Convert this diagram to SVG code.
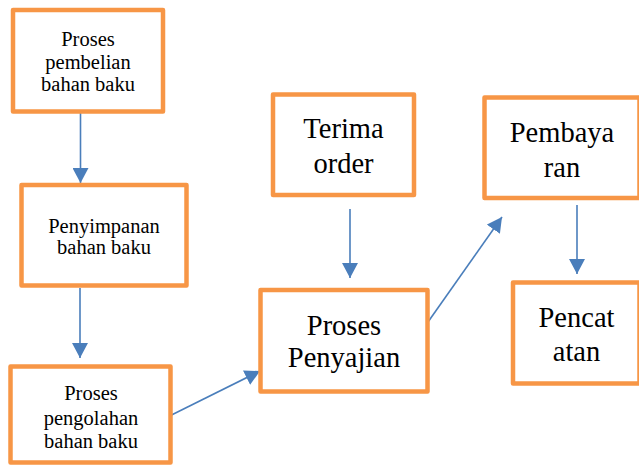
<svg xmlns="http://www.w3.org/2000/svg" width="639" height="466" viewBox="0 0 639 466">
<style>
.box{fill:#fff;stroke:#F79646;stroke-width:4.5;stroke-linejoin:round}
.c{fill:none;stroke:#4A7EBB;stroke-width:1.6}
</style>
<defs>
<marker id="ah" viewBox="0 0 15 16" refX="15" refY="8" markerWidth="15" markerHeight="16" markerUnits="userSpaceOnUse" orient="auto">
<path d="M0,0 L15,8 L0,16 z" fill="#4A7EBB"/>
</marker>
</defs>
<rect width="639" height="466" fill="#fff"/>
<g id="connectors">
<line class="c" x1="80.5" y1="113" x2="80.5" y2="183" marker-end="url(#ah)"/>
<line class="c" x1="80" y1="288" x2="80" y2="358" marker-end="url(#ah)"/>
<line class="c" x1="171.5" y1="415" x2="260" y2="371" marker-end="url(#ah)"/>
<line class="c" x1="350" y1="209" x2="350" y2="278" marker-end="url(#ah)"/>
<line class="c" x1="428" y1="322" x2="502" y2="217" marker-end="url(#ah)"/>
<line class="c" x1="577" y1="205" x2="577" y2="274" marker-end="url(#ah)"/>
</g>
<g font-family="Liberation Serif, DejaVu Serif, serif" text-anchor="middle" fill="#000">
<g id="n1" font-size="20.5">
<rect class="box" x="13" y="10" width="150" height="101.5"/>
<text x="88" y="46">Proses</text>
<text x="88" y="68.5">pembelian</text>
<text x="88" y="91">bahan baku</text>
</g>
<g id="n2" font-size="20.5">
<rect class="box" x="21.5" y="185" width="165" height="100.5"/>
<text x="104" y="233.3">Penyimpanan</text>
<text x="104" y="254.3">bahan baku</text>
</g>
<g id="n3" font-size="20.5">
<rect class="box" x="10.5" y="366.5" width="160" height="96"/>
<text x="91" y="400">Proses</text>
<text x="91" y="425">pengolahan</text>
<text x="91" y="448.3">bahan baku</text>
</g>
<g id="n4" font-size="28.5">
<rect class="box" x="273" y="94.5" width="141" height="100.5"/>
<text x="343.5" y="138">Terima</text>
<text x="343.5" y="172.5">order</text>
</g>
<g id="n5" font-size="28.5">
<rect class="box" x="260.5" y="290" width="167" height="101.5"/>
<text x="344" y="335">Proses</text>
<text x="344" y="367">Penyajian</text>
</g>
<g id="n6" font-size="28.5">
<rect class="box" x="484.5" y="97.5" width="155" height="100.5"/>
<text x="562" y="142">Pembaya</text>
<text x="562" y="176.5">ran</text>
</g>
<g id="n7" font-size="28.5">
<rect class="box" x="513" y="282.5" width="126.5" height="101"/>
<text x="576.5" y="326.5">Pencat</text>
<text x="576.5" y="361">atan</text>
</g>
</g>
</svg>
